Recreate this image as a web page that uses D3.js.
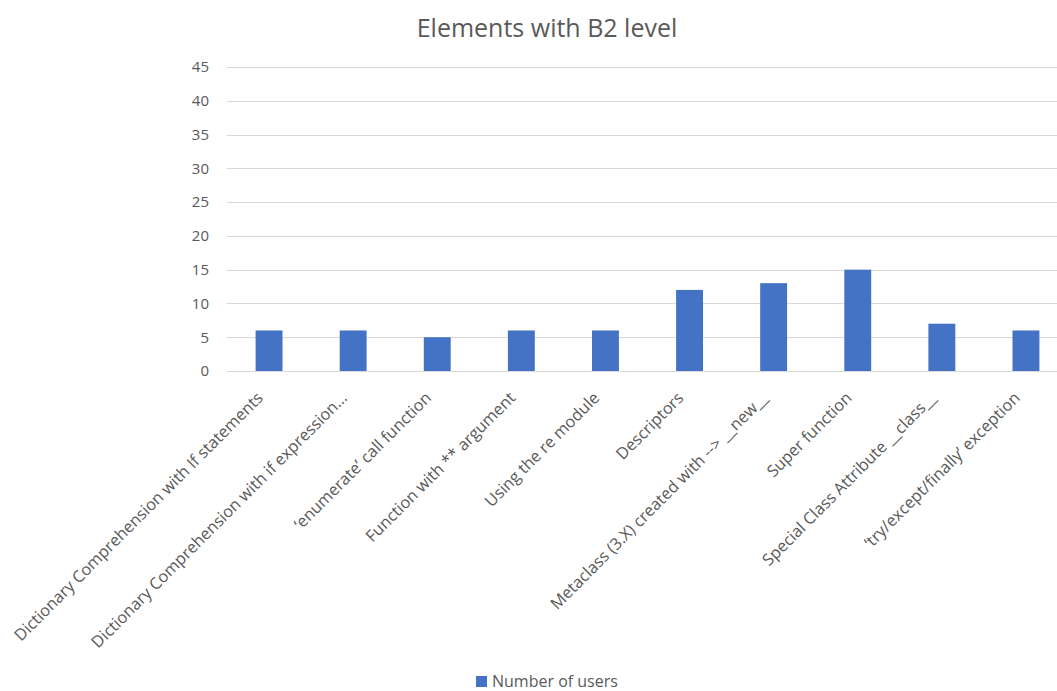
<!DOCTYPE html>
<html>
<head>
<meta charset="utf-8">
<script src="https://cdn.jsdelivr.net/npm/d3@7"></script>
<style>
  html, body { margin: 0; padding: 0; background: #fff; overflow: hidden; }
  svg { display: block; font-family: "Open Sans", "Noto Sans", sans-serif; }
</style>
</head>
<body>
<svg id="chart" width="1057" height="691"></svg>
<script>
// Chart data
const categories = [
  "Dictionary Comprehension with If statements",
  "Dictionary Comprehension with if expression...",
  "\u2018enumerate\u2019 call function",
  "Function with ** argument",
  "Using the re module",
  "Descriptors",
  "Metaclass (3.X) created with --> __new__",
  "Super function",
  "Special Class Attribute __class__",
  "\u2018try/except/finally\u2019 exception"
];
const users = [6, 6, 5, 6, 6, 12, 13, 15, 7, 6];
const yTicks = [0, 5, 10, 15, 20, 25, 30, 35, 40, 45];
const seriesName = "Number of users";
const chartTitle = "Elements with B2 level";

const svg = d3.select("#chart");
const textColor = "#595959";
const barColor = "#4472C4";
const gridColor = "#d9d9d9";

const plot = { left: 227, right: 1068, top: 67, bottom: 371 };

const x = d3.scaleBand()
  .domain(categories)
  .range([plot.left, plot.right])
  .paddingInner(0.68)
  .paddingOuter(0.34);

const y = d3.scaleLinear()
  .domain([0, 45])
  .range([plot.bottom, plot.top]);

// Title
svg.append("text")
  .attr("x", 547)
  .attr("y", 37)
  .attr("text-anchor", "middle")
  .attr("font-size", 25)
  .attr("fill", textColor)
  .text(chartTitle);

// Horizontal gridlines
svg.append("g")
  .selectAll("line")
  .data(yTicks)
  .join("line")
  .attr("x1", plot.left)
  .attr("x2", plot.right)
  .attr("y1", d => Math.round(y(d)) + 0.5)
  .attr("y2", d => Math.round(y(d)) + 0.5)
  .attr("stroke", gridColor)
  .attr("stroke-width", 1);

// Y axis labels
const yAxis = d3.axisLeft(y).tickValues(yTicks).tickSize(0).tickPadding(18);
const yG = svg.append("g")
  .attr("transform", `translate(${plot.left},0)`)
  .call(yAxis);
yG.select(".domain").remove();
yG.selectAll("text")
  .attr("font-size", 15)
  .attr("font-family", "\"Open Sans\", sans-serif")
  .attr("fill", textColor);

// Bars
svg.append("g")
  .selectAll("rect")
  .data(users)
  .join("rect")
  .attr("x", (d, i) => x(categories[i]))
  .attr("width", x.bandwidth())
  .attr("y", d => y(d))
  .attr("height", d => y(0) - y(d))
  .attr("fill", barColor);

// Category labels, rotated
const xAxis = d3.axisBottom(x).tickSize(0).tickPadding(0);
const xG = svg.append("g")
  .attr("transform", `translate(0,${plot.bottom})`)
  .call(xAxis);
xG.select(".domain").remove();
xG.selectAll("text")
  .attr("font-size", 16.3)
  .attr("font-family", "\"Open Sans\", sans-serif")
  .attr("fill", textColor)
  .attr("text-anchor", "end")
  .attr("dy", "0")
  .attr("transform", "translate(-5,28) rotate(-45)");

// Legend
const legend = svg.append("g").attr("transform", "translate(476,675)");
legend.append("rect")
  .attr("y", 1)
  .attr("width", 11).attr("height", 11)
  .attr("fill", barColor);
legend.append("text")
  .attr("x", 16).attr("y", 12)
  .attr("font-size", 16)
  .attr("fill", textColor)
  .text(seriesName);
</script>
</body>
</html>
